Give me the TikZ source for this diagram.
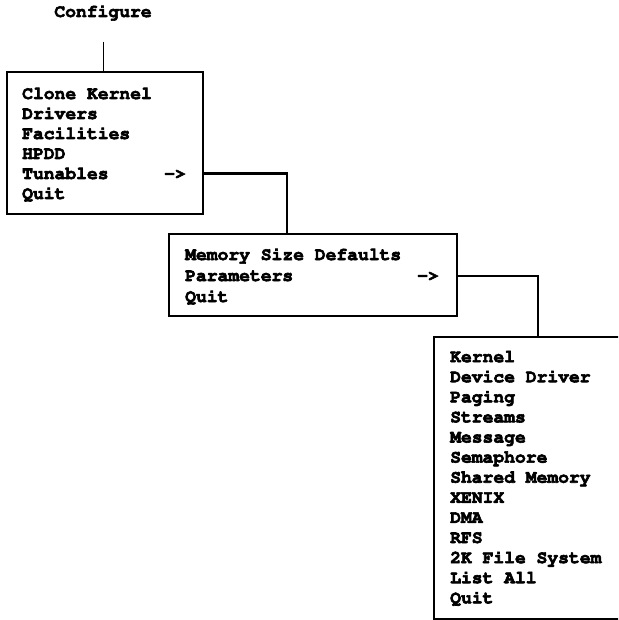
\documentclass[tikz,border=0pt]{standalone}
\usepackage[T1]{fontenc}
\usepackage{courier}

% heavier print: fill and stroke the glyphs
\newcommand\heavytype[1]{\special{pdf:literal direct 2 Tr 0.6 w}#1\special{pdf:literal direct 0 Tr}}

\begin{document}
\begin{tikzpicture}[x=1pt,y=-1pt,
    menu/.style={draw,line width=2.1pt,inner sep=0pt,anchor=north west},
    item/.style={font=\ttfamily\bfseries\fontsize{18}{20}\selectfont,
                 inner sep=0pt,anchor=base west},
    wire/.style={draw,line width=2.1pt}]
  \useasboundingbox (0,0) rectangle (618,620);
  \clip (0,0) rectangle (618,620);

  % top level menu
  \node[item,anchor=base] (title) at (103,17) {\heavytype{Configure}};
  \node[menu,minimum width=196pt,minimum height=142pt] (cfg) at (6,71) {};
  \foreach \txt [count=\i] in {Clone Kernel,Drivers,Facilities,HPDD,Tunables,Quit}
    \node[item] (cfg\i) at (22,79+20*\i) {\heavytype{\txt}};
  \node[item,anchor=base east] (cfgmore) at (186,179) {\heavytype{->}};

  % tunables menu
  \node[menu,minimum width=288pt,minimum height=82pt] (tun) at (168,233) {};
  \foreach \txt [count=\i] in {Memory Size Defaults,Parameters,Quit}
    \node[item] (tun\i) at (185,239+21*\i) {\heavytype{\txt}};
  \node[item,anchor=base east] (tunmore) at (439,281) {\heavytype{->}};

  % parameters menu, runs off the right edge
  \node[menu,minimum width=230pt,minimum height=282pt] (par) at (433,336) {};
  \foreach \txt [count=\i] in {Kernel,Device Driver,Paging,Streams,Message,
      Semaphore,Shared Memory,XENIX,DMA,RFS,2K File System,List All,Quit}
    \node[item] (par\i) at (450,342+20.1*\i) {\heavytype{\txt}};

  % links between the menus
  \draw[line width=1pt] ([yshift=-22pt]title.south) -- (title.south |- cfg.north);
  \draw[wire] (cfg.east |- cfg5) -| ([xshift=119pt]tun.north west);
  \draw[wire] (tun.east |- tun2) -| ([xshift=105pt]par.north west);
\end{tikzpicture}
\end{document}
